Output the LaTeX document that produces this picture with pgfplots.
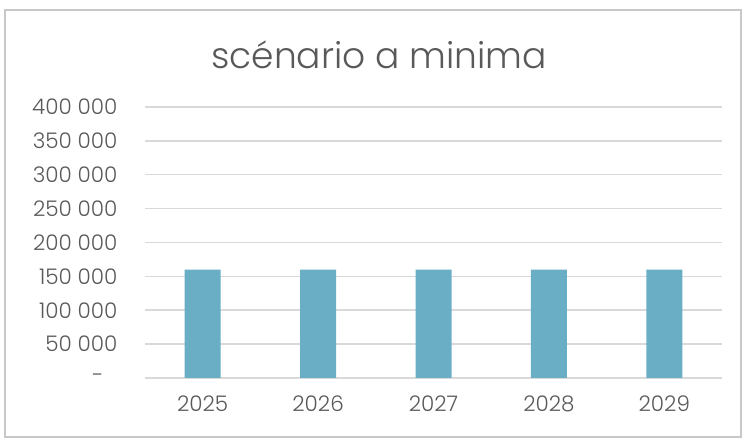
\documentclass[border=0pt]{standalone}
\usepackage{fontspec}
\setmainfont{Poppins}[UprightFont=* Light]
\usepackage{pgfplots}
\pgfplotsset{compat=1.18}
\definecolor{txt}{RGB}{89,89,89}
\definecolor{gridc}{RGB}{217,217,217}
\definecolor{barc}{RGB}{106,174,198}
\definecolor{frame}{RGB}{200,200,200}
\begin{document}
\begin{tikzpicture}[x=1pt,y=1pt]
\useasboundingbox (0,0) rectangle (749,441);
\draw[frame, line width=1.5pt] (5,4) rectangle (741,431);
\node[anchor=base, text=txt, font=\fontsize{36}{42}\selectfont] at (379,372) {scénario a minima};
\begin{axis}[
  at={(145pt,63pt)}, anchor=south west, scale only axis,
  width=577pt, height=271pt,
  xmin=-0.5, xmax=4.5, ymin=0, ymax=400000,
  axis line style={draw=none},
  major tick length=0pt,
  ymajorgrids, grid style={gridc, line width=1.5pt},
  ytick={0,50000,100000,150000,200000,250000,300000,350000,400000},
  yticklabels={{-\rule{14pt}{0pt}},50 000,100 000,150 000,200 000,250 000,300 000,350 000,400 000},
  xtick={0,1,2,3,4},
  xticklabels={2025,2026,2027,2028,2029},
  ticklabel style={text=txt, font=\fontsize{21.5}{24}\selectfont},
  yticklabel style={xshift=-24pt},
  xticklabel style={yshift=-14pt},
  scaled y ticks=false,
  ybar, bar width=36pt,
]
\addplot[fill=barc, draw=none] coordinates {(0,160000) (1,160000) (2,160000) (3,160000) (4,160000)};
\end{axis}
\end{tikzpicture}
\end{document}
